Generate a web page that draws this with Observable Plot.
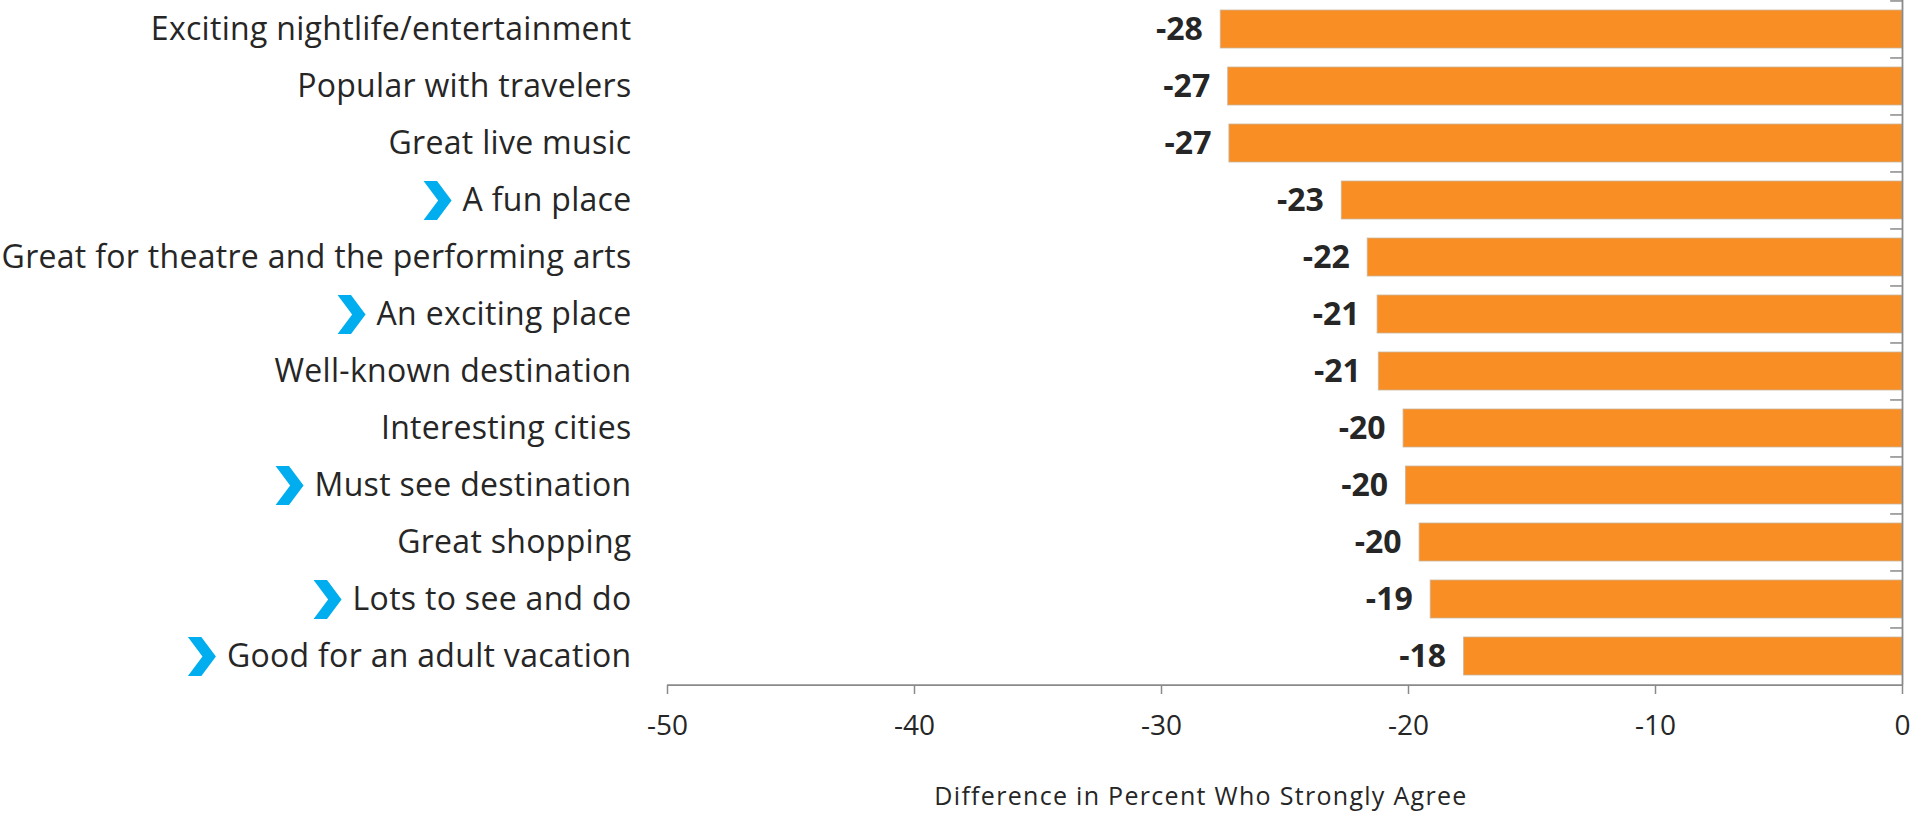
<!DOCTYPE html>
<html>
<head>
<meta charset="utf-8">
<script src="https://cdn.jsdelivr.net/npm/d3@7"></script>
<script src="https://cdn.jsdelivr.net/npm/@observablehq/plot@0.6"></script>
<style>
  html, body { margin: 0; padding: 0; background: #ffffff; }
  #chart svg { display: block; }
</style>
</head>
<body>
<div id="chart"></div>
<script>
// ---- data ----
const categories = [
  "Exciting nightlife/entertainment",
  "Popular with travelers",
  "Great live music",
  "A fun place",
  "Great for theatre and the performing arts",
  "An exciting place",
  "Well-known destination",
  "Interesting cities",
  "Must see destination",
  "Great shopping",
  "Lots to see and do",
  "Good for an adult vacation"
];
const values = [-27.6, -27.3, -27.25, -22.7, -21.65, -21.25, -21.2, -20.2, -20.1, -19.55, -19.1, -17.75];
const flagged = [false, false, false, true, false, true, false, false, true, false, true, true];
const xTicks = [-50, -40, -30, -20, -10, 0];
const axisTitle = "Difference in Percent Who Strongly Agree";

// ---- layout / style ----
const W = 1913, H = 818;
const mLeft = 667, mRight = 11, mTop = 0, mBottom = 133;
const labelFont = "Open Sans";
const labelSize = 32;
const labelSpacing = 0.3;
const titleSize = 25;
const titleSpacing = 1.3;
const textColor = "#262626";
const axisColor = "#8a8a8a";
const barColor = "#F98E25";
const chevronColor = "#00AEEF";
const tickPad = 36;
const step = (H - mTop - mBottom) / categories.length;
const xMin = -50, xMax = 0;
const pxPerUnit = (W - mLeft - mRight) / (xMax - xMin);

const rows = categories.map((c, i) => ({category: c, value: values[i], flagged: flagged[i]}));

// measure label widths for chevron placement
const ctx = document.createElement("canvas").getContext("2d");
ctx.font = `${labelSize}px "${labelFont}"`;
const chevW = 28, chevH = 39, chevGap = 11;
const chevRows = rows.filter(d => d.flagged).map(d => {
  const tw = ctx.measureText(d.category).width + labelSpacing * d.category.length;
  const offPx = tickPad + tw + chevGap + chevW / 2;
  return {...d, cx: xMin - offPx / pxPerUnit};
});

const chevron = {
  draw(context) {
    const x0 = -chevW / 2, h2 = chevH / 2, t = 0.48 * chevW;
    context.moveTo(x0, -h2);
    context.lineTo(x0 + t, -h2);
    context.lineTo(chevW / 2, 0);
    context.lineTo(x0 + t, h2);
    context.lineTo(x0, h2);
    context.lineTo(x0 + (chevW - t), 0);
    context.closePath();
  }
};

const chart = Plot.plot({
  width: W,
  height: H,
  marginLeft: mLeft,
  marginRight: mRight,
  marginTop: mTop,
  marginBottom: mBottom,
  style: {fontFamily: labelFont, color: textColor, background: "#ffffff", overflow: "visible"},
  x: {domain: [xMin, xMax]},
  y: {domain: categories, paddingInner: 0.33, paddingOuter: 0.165},
  marks: [
    // right-side vertical axis line with band-boundary ticks
    Plot.ruleY(categories, {y: d => d, x1: -0.48, x2: 0, dy: -step / 2, stroke: axisColor, strokeWidth: 1.5}),
    Plot.barX(rows, {
      y: "category", x1: "value", x2: 0,
      fill: barColor, stroke: "#c9b49c", strokeWidth: 1, strokeOpacity: 0.8
    }),
    Plot.ruleX([0], {stroke: axisColor, strokeWidth: 1.8}),
    Plot.ruleY([0], {y: () => categories[categories.length - 1], dy: step / 2, x1: xMin, x2: xMax, stroke: axisColor, strokeWidth: 1.8}),
    Plot.axisX({
      ticks: xTicks, tickSize: 9, tickPadding: 21, tickFormat: d => String(d),
      fontSize: 28, fill: textColor, stroke: axisColor, strokeWidth: 1.5, label: null
    }),
    Plot.axisY({
      tickSize: 0, tickPadding: tickPad, fontSize: labelSize, fill: textColor, label: null
    }),
    Plot.text(rows, {
      y: "category", x: "value", text: d => String(Math.round(d.value)),
      textAnchor: "end", dx: -18, fontSize: 32, fontWeight: "bold", fill: textColor
    }),
    Plot.dot(chevRows, {
      y: "category", x: "cx", symbol: chevron, r: 10,
      fill: chevronColor, stroke: "none"
    }),
    Plot.text([axisTitle], {
      frameAnchor: "bottom", text: d => d, textAnchor: "middle", lineAnchor: "bottom",
      dx: -84, dy: 119, fontSize: titleSize, fill: textColor
    })
  ]
});

// letter spacing tweaks
d3.select(chart).selectAll('g[aria-label="y-axis tick label"] text').style("letter-spacing", labelSpacing + "px");
d3.select(chart).selectAll("text").filter(function () { return this.textContent === axisTitle; })
  .style("letter-spacing", titleSpacing + "px");

document.getElementById("chart").appendChild(chart);
</script>
</body>
</html>
